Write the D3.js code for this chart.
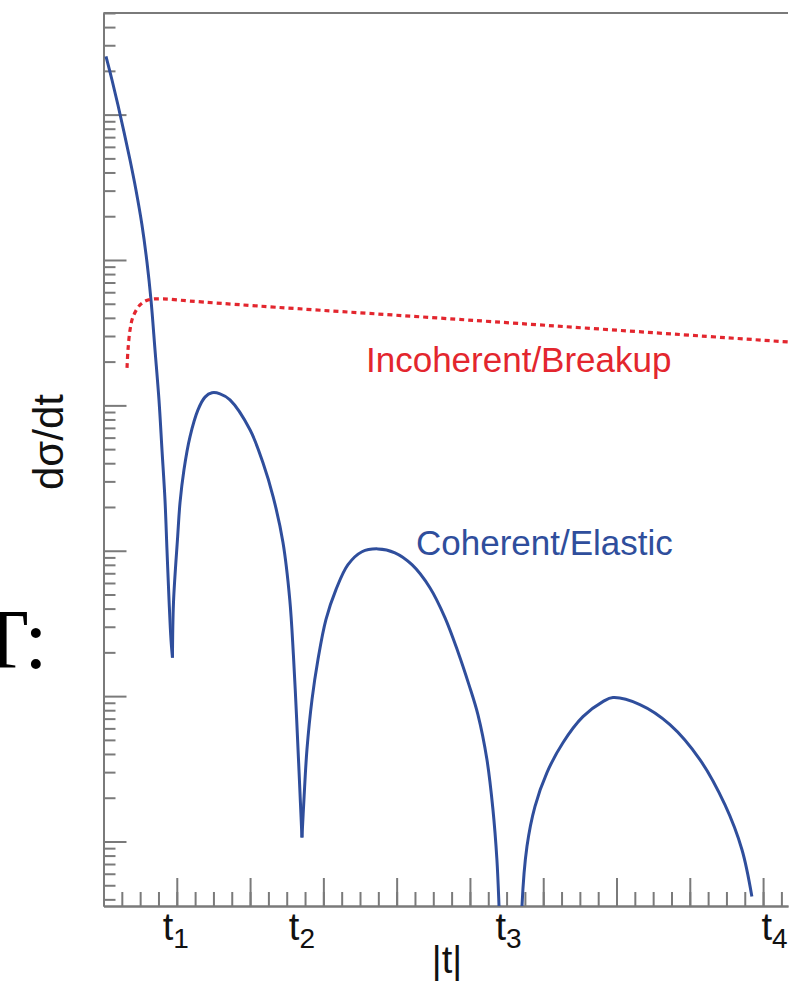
<!DOCTYPE html>
<html lang="en">
<head>
<meta charset="utf-8">
<title>dσ/dt vs |t|</title>
<script src="https://d3js.org/d3.v7.min.js"></script>
<style>
  body { margin: 0; background: #fff; }
  svg { display: block; }
  .lbl { font-family: "Liberation Sans", Arial, sans-serif; }
  .axis path, .axis line { stroke: #7a7a7a; stroke-width: 2px; }
</style>
</head>
<body>
<div id="chart"></div>
<script>
// coherent / elastic curve, split into the arcs between the minima  [|t|, dσ/dt]
var coherentArc1 = [[0.0034,25.2],[0.0116,17.3],[0.0198,11.6],[0.0280,7.58],[0.0362,4.87],[0.0443,3.03],
  [0.0525,1.74],[0.0593,0.968],[0.0648,0.531],[0.0703,0.240],[0.0757,0.109],[0.0798,0.0494],
  [0.0839,0.0224],[0.0866,0.0102],[0.0894,0.0046],[0.0921,0.00244],[0.0941,0.00184]];
var coherentArc2 = [[0.0941,0.00184],[0.0955,0.00440],[0.1012,0.0125],[0.1044,0.0214],[0.1098,0.0361],
  [0.1180,0.0608],[0.1289,0.0931],[0.1385,0.114],[0.1480,0.122],[0.1590,0.120],[0.1726,0.109],
  [0.1999,0.0679],[0.2176,0.0403],[0.2315,0.0235],[0.2449,0.0114],[0.2542,0.00460],[0.2591,0.00193],
  [0.2636,0.000689],[0.2673,0.000267],[0.2708,0.0001065]];
var coherentArc3 = [[0.2708,0.0001065],[0.2735,0.000194],[0.2776,0.000428],[0.2845,0.000946],[0.2926,0.00178],
  [0.3035,0.00336],[0.3172,0.00540],[0.3336,0.00802],[0.3527,0.00984],[0.3745,0.0103],[0.3977,0.00968],
  [0.4209,0.00802],[0.4454,0.00557],[0.4659,0.00347],[0.4836,0.00202],[0.4986,0.00120],[0.5109,0.000746],
  [0.5232,0.000366],[0.5314,0.000166],[0.5368,0.0000752],[0.5396,0.0000369],[0.5416,0.0000181]];
var coherentArc4 = [[0.5703,0.0000181],[0.5710,0.0000357],[0.5778,0.0000924],[0.5887,0.000174],
  [0.6051,0.000298],[0.6269,0.000478],[0.6542,0.000722],[0.6814,0.000916],[0.6951,0.000977],
  [0.7319,0.000875],[0.7729,0.000637],[0.8138,0.000366],[0.8479,0.000179],[0.8711,0.0000881],
  [0.8847,0.0000419]];
// incoherent / breakup curve
var incoherent = [[0.0321,0.181],[0.0334,0.240],[0.0362,0.330],[0.0402,0.405],[0.0498,0.491],
  [0.0607,0.531],[0.0812,0.540],[0.1180,0.522],[0.2094,0.483],[0.4727,0.394],[0.9339,0.273]];

// labels of the minima on the |t| axis
var tNames = ["1", "2", "3", "4"];
var tPositions = [0.100, 0.272, 0.554, 0.917];
var yDecades = [1e-5, 1e-4, 1e-3, 1e-2, 1e-1, 1e0, 1e1];

var W = 801, H = 982;
var plotLeft = 103.5, plotRight = 788, plotTop = 13, plotBottom = 906;

var svg = d3.select("#chart").append("svg").attr("width", W).attr("height", H);

var x = d3.scaleLinear().domain([0, 0.934]).range([plotLeft, plotRight]);
var y = d3.scaleLog().domain([3.6e-5, 50]).range([plotBottom, plotTop]);

svg.append("clipPath").attr("id", "plotClip")
  .append("rect").attr("x", plotLeft).attr("y", plotTop)
  .attr("width", plotRight - plotLeft).attr("height", plotBottom - plotTop);

// frame top line
svg.append("line").attr("x1", plotLeft).attr("x2", plotRight).attr("y1", plotTop).attr("y2", plotTop)
  .attr("stroke", "#7a7a7a").attr("stroke-width", 2);

// y axis : log ticks, decades longer
var yMinor = [];
yDecades.forEach(function(d) {
  for (var k = 2; k <= 9; k++) { if (d * k >= 3.6e-5 && d * k <= 50) yMinor.push(d * k); }
});
var yMajor = yDecades.filter(function(d) { return d >= 3.6e-5 && d <= 50; });
svg.append("g").attr("class", "axis").attr("transform", "translate(" + plotLeft + ",0)")
  .call(d3.axisRight(y).tickValues(yMinor).tickSize(12).tickFormat("").tickSizeOuter(0));
svg.append("g").attr("class", "axis").attr("transform", "translate(" + plotLeft + ",0)")
  .call(d3.axisRight(y).tickValues(yMajor).tickSize(23).tickFormat("").tickSizeOuter(0));

// x axis : ticks pointing up
var xMinor = d3.range(0, 0.934, 0.025);
var xMajor = d3.range(0, 0.934, 0.1);
svg.append("g").attr("class", "axis").attr("transform", "translate(0," + plotBottom + ")")
  .call(d3.axisTop(x).tickValues(xMinor).tickSize(14).tickFormat("").tickSizeOuter(0));
svg.append("g").attr("class", "axis").attr("transform", "translate(0," + plotBottom + ")")
  .call(d3.axisTop(x).tickValues(xMajor).tickSize(28).tickFormat("").tickSizeOuter(0));

// curves
var line = d3.line().x(function(d) { return x(d[0]); }).y(function(d) { return y(d[1]); })
  .curve(d3.curveCatmullRom.alpha(0.5));
var plot = svg.append("g").attr("clip-path", "url(#plotClip)");
[coherentArc1, coherentArc2, coherentArc3, coherentArc4].forEach(function(arc) {
  plot.append("path").datum(arc).attr("d", line)
    .attr("fill", "none").attr("stroke", "#2f4e9c").attr("stroke-width", 3);
});
plot.append("path").datum(incoherent).attr("d", line)
  .attr("fill", "none").attr("stroke", "#e3262e").attr("stroke-width", 3.2)
  .attr("stroke-dasharray", "5,4");

// t_n labels
tNames.forEach(function(n, i) {
  var t = svg.append("text").attr("class", "lbl").attr("x", x(tPositions[i]) - 14).attr("y", 940)
    .attr("font-size", 38).attr("fill", "#111");
  t.append("tspan").text("t");
  t.append("tspan").attr("dy", 8).attr("font-size", 28).text(n);
});

svg.append("text").attr("class", "lbl").attr("x", 447).attr("y", 973)
  .attr("text-anchor", "middle").attr("font-size", 38).attr("fill", "#111").text("|t|");

svg.append("text").attr("class", "lbl")
  .attr("transform", "translate(63,442) rotate(-90)")
  .attr("text-anchor", "middle").attr("font-size", 42).attr("fill", "#111").text("dσ/dt");

svg.append("text").attr("class", "lbl").attr("x", 366).attr("y", 372)
  .attr("font-size", 35).attr("fill", "#e3262e").text("Incoherent/Breakup");
svg.append("text").attr("class", "lbl").attr("x", 416).attr("y", 555)
  .attr("font-size", 35).attr("fill", "#2f4e9c").text("Coherent/Elastic");

// cut-off text on the left edge
svg.append("text").attr("x", -23).attr("y", 668)
  .attr("font-family", "'Liberation Serif', 'Times New Roman', serif")
  .attr("font-size", 84).attr("fill", "#000").text("T:");
</script>
</body>
</html>
